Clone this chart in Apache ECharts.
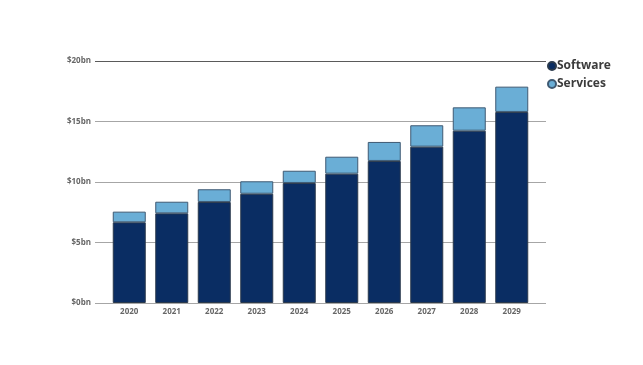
<!DOCTYPE html>
<html>
<head>
<meta charset="utf-8">
<script src="https://cdn.jsdelivr.net/npm/echarts@6/dist/echarts.min.js"></script>
<style>html,body{margin:0;padding:0;background:#fff}#c{width:643px;height:365px}</style>
</head>
<body>
<div id="c"></div>
<script>
var categories = ['2020','2021','2022','2023','2024','2025','2026','2027','2028','2029'];
var software = [6.67, 7.41, 8.35, 9.03, 9.92, 10.69, 11.74, 12.92, 14.24, 15.79];
var services = [0.88, 0.96, 1.05, 1.03, 1.01, 1.40, 1.57, 1.77, 1.93, 2.09];
var yTicks = [0, 5, 10, 15, 20];

var chart = echarts.init(document.getElementById('c'));
var font = '"Open Sans", "DejaVu Sans", sans-serif';
chart.setOption({
  animation: false,
  backgroundColor: '#fff',
  legend: {
    orient: 'vertical', left: 542, top: 55, itemGap: 6,
    icon: 'circle', itemWidth: 8, itemHeight: 8,
    textStyle: { fontFamily: font, fontWeight: 'bold', fontSize: 12, color: '#3c3c3c', padding: [0,0,0,-4] },
    data: ['Software', 'Services']
  },
  grid: [
    { left: 95, right: 97, top: 61, bottom: 62 },
    { left: 108, right: 110, top: 61, bottom: 62 }
  ],
  xAxis: [
    { gridIndex: 0, type: 'value', min: 0, max: 1, show: false },
    { gridIndex: 1, type: 'category', data: categories,
      axisLine: { show: false }, axisTick: { show: false },
      axisLabel: { fontFamily: font, fontWeight: 'bold', fontSize: 8, color: '#666', margin: 5 } }
  ],
  yAxis: [
    { gridIndex: 0, type: 'value', min: yTicks[0], max: yTicks[yTicks.length-1], interval: 5,
      axisLine: { show: false }, axisTick: { show: false },
      axisLabel: { fontFamily: font, fontWeight: 'bold', fontSize: 8, color: '#666', margin: 4,
        formatter: function (v) { return '$' + v + 'bn'; } },
      splitLine: { lineStyle: { color: ['#a6a6a6','#a6a6a6','#a6a6a6','#a6a6a6','#5a5a5a'], width: 1 } } },
    { gridIndex: 1, type: 'value', min: 0, max: 20, show: false }
  ],
  series: [
    { name: 'Software', type: 'bar', stack: 'a', xAxisIndex: 1, yAxisIndex: 1, barWidth: 33,
      itemStyle: { color: '#0a2d63', borderColor: '#2b3a4c', borderWidth: 1 },
      data: software },
    { name: 'Services', type: 'bar', stack: 'a', xAxisIndex: 1, yAxisIndex: 1, barWidth: 33,
      itemStyle: { color: '#6aaed6', borderColor: '#3f5a73', borderWidth: 1 },
      data: services }
  ]
});
</script>
</body>
</html>
